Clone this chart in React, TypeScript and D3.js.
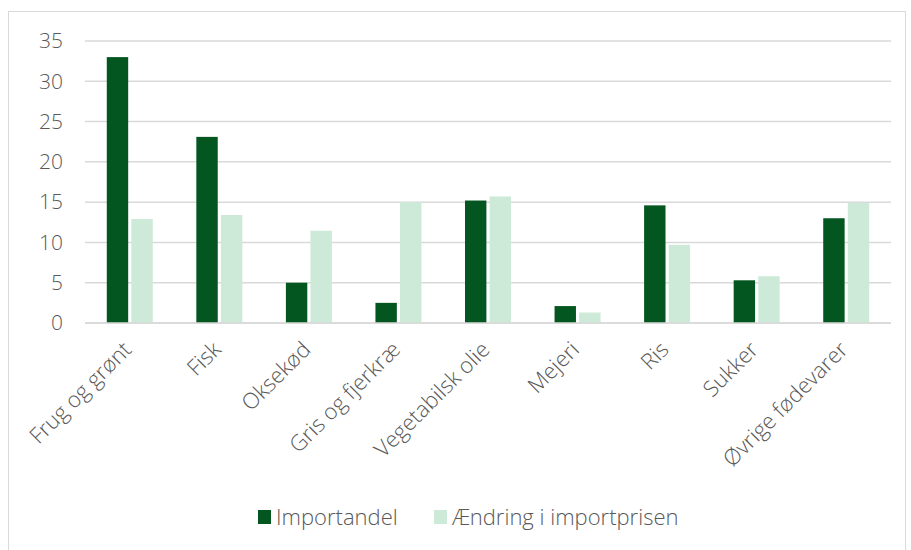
import * as d3 from 'd3';

const categories = [
  'Frug og grønt',
  'Fisk',
  'Oksekød',
  'Gris og fjerkræ',
  'Vegetabilsk olie',
  'Mejeri',
  'Ris',
  'Sukker',
  'Øvrige fødevarer',
];
const importandel = [33.0, 23.1, 5.0, 2.5, 15.2, 2.1, 14.6, 5.3, 13.0];
const prisaendring = [12.9, 13.4, 11.45, 15.0, 15.7, 1.3, 9.7, 5.8, 14.9];
const yTicks = [0, 5, 10, 15, 20, 25, 30, 35];
const seriesNames = ['Importandel', 'Ændring i importprisen'];
const colors = ['#03561f', '#cde9d7'];

const W = 911;
const H = 550;
const font = '"Open Sans", Lato, sans-serif';
const textColor = '#595959';

export default function App() {
  const x = d3.scaleBand<string>().domain(categories).range([85, 891]);
  const y = d3.scaleLinear().domain([0, 35]).range([323, 41]);
  const inner = d3
    .scaleBand<number>()
    .domain([0, 1])
    .range([-23, 23])
    .paddingInner(0.13);

  const series = [importandel, prisaendring];

  return (
    <svg
      width={W}
      height={H}
      style={{ position: 'absolute', left: 0, top: 0, background: '#fff' }}
    >
      <rect x={8.5} y={11.5} width={897} height={560} fill="#fff" stroke="#d9d9d9" />
      {yTicks.map((t) => (
        <g key={t}>
          <line x1={85} x2={891} y1={y(t)} y2={y(t)} stroke="#d9d9d9" strokeWidth={1.5} />
          <text
            x={63}
            y={y(t)}
            dy="0.35em"
            textAnchor="end"
            fontFamily={font}
            fontWeight={300}
            fontSize={21}
            fill={textColor}
          >
            {t}
          </text>
        </g>
      ))}
      {series.map((vals, si) =>
        vals.map((v, i) => {
          const cx = (x(categories[i]) ?? 0) + x.bandwidth() / 2;
          return (
            <rect
              key={`${si}-${i}`}
              x={cx + (inner(si) ?? 0)}
              y={y(v)}
              width={inner.bandwidth()}
              height={y(0) - y(v)}
              fill={colors[si]}
            />
          );
        })
      )}
      <line x1={85} x2={891} y1={y(0)} y2={y(0)} stroke="#d9d9d9" strokeWidth={1.5} />
      {categories.map((c) => {
        const cx = (x(c) ?? 0) + x.bandwidth() / 2 + 3;
        return (
          <text
            key={c}
            transform={`translate(${cx},${351}) rotate(-45)`}
            textAnchor="end"
            fontFamily={font}
            fontWeight={300}
            fontSize={22}
            fill={textColor}
          >
            {c}
          </text>
        );
      })}
      <g transform="translate(258,517)">
        <rect x={0} y={-7} width={13} height={14} fill={colors[0]} />
        <text x={18} y={0} dy="0.35em" fontFamily={font} fontWeight={300} fontSize={22} fill={textColor}>
          {seriesNames[0]}
        </text>
        <rect x={176} y={-7} width={13} height={14} fill={colors[1]} />
        <text x={194} y={0} dy="0.35em" fontFamily={font} fontWeight={300} fontSize={22} fill={textColor}>
          {seriesNames[1]}
        </text>
      </g>
    </svg>
  );
}
